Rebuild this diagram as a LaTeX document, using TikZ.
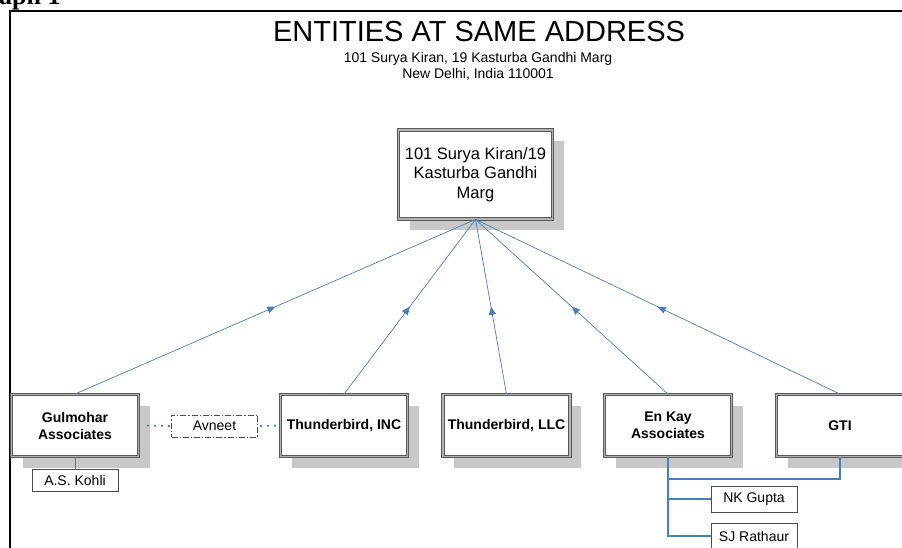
\documentclass[tikz,border=0pt]{standalone}
\usepackage{fontspec}
\setmainfont{Liberation Sans}
\newfontfamily\headserif{Liberation Serif}
\usetikzlibrary{arrows.meta,decorations.markings,shadows}
\definecolor{lineblue}{RGB}{74,126,187}
\definecolor{shadowgray}{RGB}{200,200,200}
\tikzset{
  ent/.style={draw=black!65, double=black!30, double distance=1.4pt, line width=0.85pt,
    fill=white, align=center, inner sep=0pt,
    drop shadow={shadow xshift=11pt, shadow yshift=-11pt, fill=shadowgray, opacity=1}},
  entname/.style={ent, font=\bfseries\fontsize{14}{17}\selectfont,
    minimum width=127pt, minimum height=62pt},
  person/.style={draw=black!70, line width=0.7pt, fill=white, inner sep=0pt,
    font=\fontsize{14}{16}\selectfont, minimum width=86pt},
  conn/.style={draw=lineblue, line width=0.7pt, postaction={decorate},
    decoration={markings, mark=at position 0.5 with {\arrow{Triangle[length=8pt,width=7pt]}}}},
  thinlink/.style={draw=lineblue, line width=0.7pt},
  thicklink/.style={draw=lineblue, line width=2.8pt},
  dotlink/.style={draw=lineblue, line width=1.8pt, dash pattern=on 2pt off 5pt},
}
\begin{document}
\begin{tikzpicture}[x=1pt,y=-1pt]
\useasboundingbox (0,0) rectangle (902,547);
% page heading fragment and frame
\node[anchor=base west, inner sep=0pt, font=\headserif\bfseries\fontsize{26}{28}\selectfont] (hdr) at (-1,4) {aph 1};
\draw[line width=2.4pt] (9.7,570) |- (930,10.7);
% titles
\node[anchor=base, inner sep=0pt, font=\fontsize{29}{32}\selectfont] (title) at (479,41.5) {ENTITIES AT SAME ADDRESS};
\node[anchor=base, inner sep=0pt, font=\fontsize{14}{15}\selectfont] (sub1) at (478,62.5) {101 Surya Kiran, 19 Kasturba Gandhi Marg};
\node[anchor=base, inner sep=0pt, font=\fontsize{14}{15}\selectfont] (sub2) at (478,78) {New Delhi, India 110001};
% address box
\node[ent, font=\fontsize{16.5}{19.5}\selectfont, minimum width=154pt, minimum height=89pt] (addr) at (475.5,174.5)
  {101 Surya Kiran/19\\Kasturba Gandhi\\Marg};
% entities
\node[entname] (gul) at (75,425.5) {Gulmohar\\Associates};
\node[entname] (tinc) at (344,425.5) {Thunderbird, INC};
\node[entname] (tllc) at (506.5,425.5) {Thunderbird, LLC};
\node[entname] (enk) at (668,425.5) {En Kay\\Associates};
\node[entname] (gti) at (840,425.5) {GTI};
% people
\node[person, draw=black!70, dash pattern=on 6pt off 2pt on 1.2pt off 2pt, minimum height=22pt] (avn) at (214.5,426) {Avneet};
\node[person, minimum height=22pt] (kohli) at (75,480) {A.S. Kohli};
\node[person, minimum height=26pt] (nk) at (754,499) {NK Gupta};
\node[person, minimum height=26pt] (sj) at (754,536) {SJ Rathaur};
% connectors to address
\draw[conn] (gul.north) -- (addr.south);
\draw[conn] (tinc.north) -- (addr.south);
\draw[conn] (tllc.north) -- (addr.south);
\draw[conn] (enk.north) -- (addr.south);
\draw[conn] (gti.north) -- (addr.south);
% Avneet links
\draw[dotlink] ([xshift=8pt]gul.east) -- (avn.west);
\draw[dotlink] ([xshift=2pt]avn.east) -- (tinc.west);
% Kohli link
\draw[thinlink] (gul.south) -- (kohli.north);
% En Kay / GTI links
\coordinate (jn) at (668,479);
\draw[thicklink] (enk.south) -- (jn) -| (gti.south);
\draw[thicklink] (enk.south) |- (nk.west);
\draw[thicklink] (enk.south) |- (sj.west);
\end{tikzpicture}
\end{document}
